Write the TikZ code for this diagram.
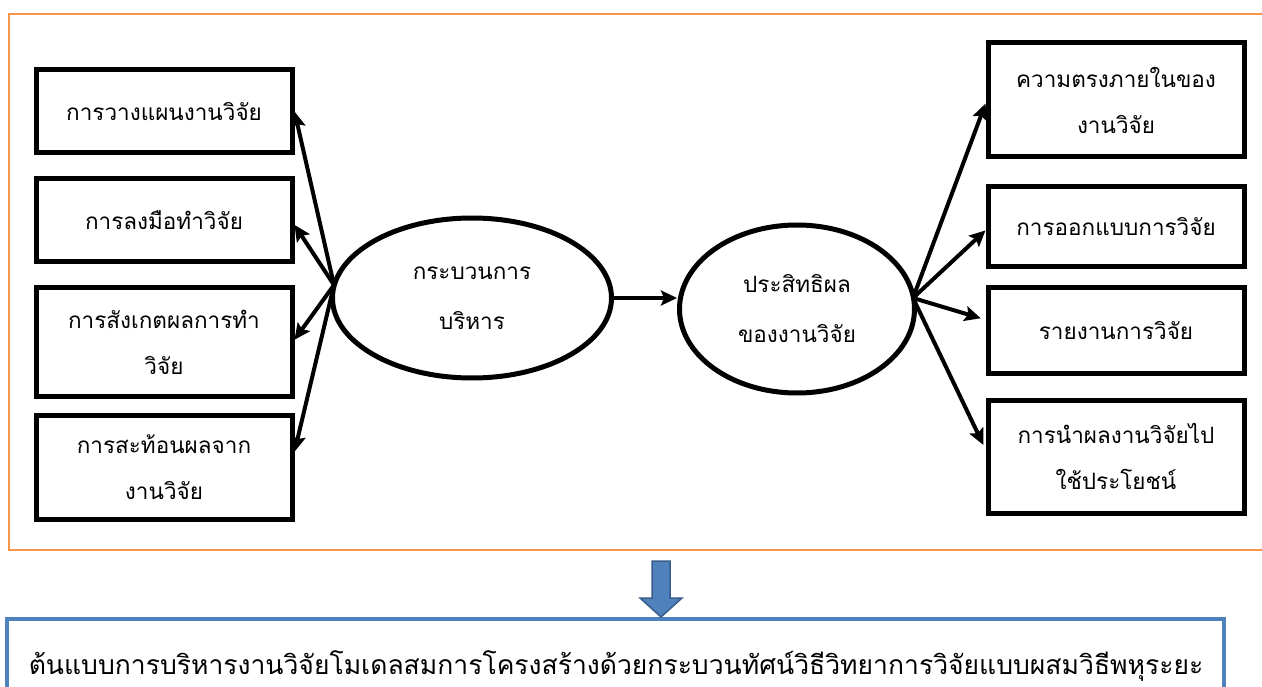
\documentclass[tikz,border=0pt]{standalone}
\usepackage{fontspec}
\newfontfamily\thaifont[Script=Thai]{Loma}
\usetikzlibrary{shapes.geometric,arrows.meta,calc}
\definecolor{frameorange}{HTML}{F79646}
\definecolor{blockblue}{HTML}{4F81BD}
\definecolor{blockdark}{HTML}{385D8A}
\tikzset{
  box/.style={draw=black, line width=5pt, minimum width=256pt, align=center, inner sep=0pt,
    font=\thaifont\fontsize{22.5}{46}\selectfont},
  oval/.style={draw=black, line width=5pt, ellipse, inner sep=0pt, align=center,
    font=\thaifont\fontsize{22.5}{50}\selectfont},
  arr/.style={line width=4pt, -{Stealth[length=16pt,width=15pt,inset=3pt]}},
}
\begin{document}
\begin{tikzpicture}[x=1pt,y=-1pt]
\useasboundingbox (0,0) rectangle (1262,687);
% orange frame
\draw[frameorange, line width=2pt] (9,14) rectangle (1280,550);
% left boxes
\node[box, minimum height=83pt] (b1) at (164,111.5) {การวางแผนงานวิจัย};
\node[box, minimum height=83pt] (b2) at (164,220.5) {การลงมือทำวิจัย};
\node[box, minimum height=108pt] (b3) at (164,342) {การสังเกตผลการทำ\\วิจัย};
\node[box, minimum height=104pt] (b4) at (164,467) {การสะท้อนผลจาก\\งานวิจัย};
% ellipses
\node[oval, minimum width=279pt, minimum height=160pt] (e1) at (472,298) {กระบวนการ\\บริหาร};
\node[oval, minimum width=235pt, minimum height=168pt] (e2) at (797,309) {ประสิทธิผล\\ของงานวิจัย};
% right boxes
\node[box, minimum height=114pt] (r1) at (1116,100) {ความตรงภายในของ\\งานวิจัย};
\node[box, minimum height=80pt] (r2) at (1116,227) {การออกแบบการวิจัย};
\node[box, minimum height=85pt] (r3) at (1116,330.5) {รายงานการวิจัย};
\node[box, minimum height=113pt] (r4) at (1116,456.5) {การนำผลงานวิจัยไป\\ใช้ประโยชน์};
% arrows
\coordinate (lo) at (334,285);
\coordinate (ro) at (913,298);
\draw[arr] (lo) -- ($(b1.north east)!0.5!(b1.south east)$);
\draw[arr] (lo) -- ($(b2.north east)!0.55!(b2.south east)$);
\draw[arr] (lo) -- ($(b3.north east)!0.48!(b3.south east)$);
\draw[arr] (lo) -- ($(b4.north east)!0.36!(b4.south east)$);
\draw[arr] (ro) -- ($(r1.north west)!0.53!(r1.south west)$);
\draw[arr] (ro) -- ($(r2.north west)!0.54!(r2.south west)$);
\draw[arr, shorten >=5pt] (ro) -- ($(r3.north west)!0.38!(r3.south west)$);
\draw[arr, shorten >=5pt] (ro) -- ($(r4.north west)!0.44!(r4.south west)$);
\draw[arr] (e1.east) -- (e2.west |- e1.east);
% bottom box
\node[draw=blockblue, line width=3.5pt, minimum width=1217pt, minimum height=90pt, inner sep=0pt,
  anchor=north west] (bot) at (5,617) {};
\node[font=\thaifont\fontsize{26.5}{30}\selectfont, anchor=base] (bottxt) at (616,674)
  {ต้นแบบการบริหารงานวิจัยโมเดลสมการโครงสร้างด้วยกระบวนทัศน์วิธีวิทยาการวิจัยแบบผสมวิธีพหุระยะ};
% block arrow
\draw[blockdark, fill=blockblue, line width=1.5pt]
  (652,561) -- (670,561) -- (670,598) -- (682,598) -- (661,617) -- (640,598) -- (652,598) -- cycle;
\end{tikzpicture}
\end{document}
